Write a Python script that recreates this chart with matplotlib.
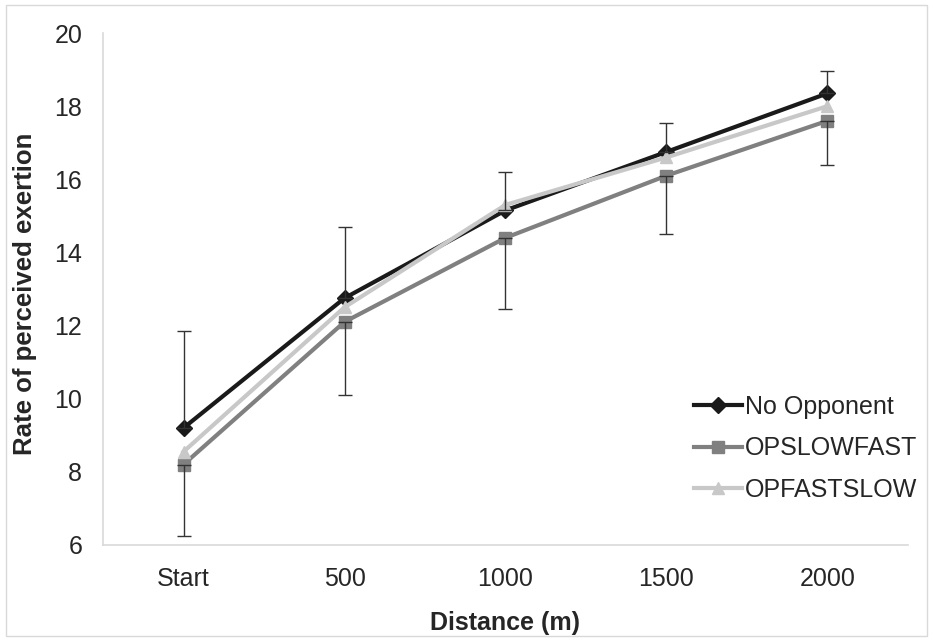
import matplotlib.pyplot as plt
from matplotlib.patches import Rectangle

plt.rcParams['font.family'] = ['Liberation Sans', 'DejaVu Sans']

# Data
distances = ['Start', '500', '1000', '1500', '2000']
no_opponent = [9.2, 12.75, 15.15, 16.75, 18.35]
op_slow_fast = [8.2, 12.1, 14.4, 16.1, 17.6]
op_fast_slow = [8.55, 12.5, 15.3, 16.6, 18.0]
# Excel-style error bars: plus on No Opponent, minus on OPSLOWFAST
no_opponent_err_up = [2.65, 1.95, 1.05, 0.8, 0.6]
op_slow_fast_err_down = [1.95, 2.0, 1.95, 1.6, 1.2]

x = list(range(len(distances)))

fig = plt.figure(figsize=(9.33, 6.41), dpi=100)
ax = fig.add_axes([0.1104, 0.1498, 0.8628, 0.7987])

# figure border
fig.patches.append(Rectangle((0.006, 0.008), 0.988, 0.984, transform=fig.transFigure,
                             fill=False, edgecolor='#d9d9d9', linewidth=1.0))

ax.plot(x, no_opponent, color='#1a1a1a', lw=3, marker='D', ms=8, label='No Opponent', zorder=3)
ax.plot(x, op_slow_fast, color='#808080', lw=3, marker='s', ms=9, label='OPSLOWFAST', zorder=3)
ax.plot(x, op_fast_slow, color='#c8c8c8', lw=3, marker='^', ms=9, label='OPFASTSLOW', zorder=4)

ax.errorbar(x, no_opponent, yerr=[[0] * 5, no_opponent_err_up], fmt='none',
            ecolor='#333333', elinewidth=1, capsize=5, capthick=1, zorder=5)
ax.errorbar(x, op_slow_fast, yerr=[op_slow_fast_err_down, [0] * 5], fmt='none',
            ecolor='#333333', elinewidth=1, capsize=5, capthick=1, zorder=5)

ax.set_xlim(-0.5, 4.5)
ax.set_ylim(6, 20)
ax.set_yticks(range(6, 21, 2))
ax.set_xticks(x)
ax.set_xticklabels(distances)
ax.tick_params(axis='both', length=0, labelsize=18, colors='#262626')
ax.tick_params(axis='y', pad=15)
ax.tick_params(axis='x', pad=16)

for side in ['top', 'right']:
    ax.spines[side].set_visible(False)
for side in ['left', 'bottom']:
    ax.spines[side].set_color('#d9d9d9')
    ax.spines[side].set_linewidth(1.2)

ax.set_xlabel('Distance (m)', fontsize=18, fontweight='bold', color='#262626', labelpad=14)
ax.set_ylabel('Rate of perceived exertion', fontsize=18.5, fontweight='bold', color='#262626')
ax.yaxis.set_label_coords(-0.082, 0.49)

ax.legend(loc='lower right', bbox_to_anchor=(1.04, 0.04), frameon=False, fontsize=18,
          handlelength=1.95, handletextpad=0.12, labelspacing=0.7, labelcolor='#262626')

fig.savefig('out.png', dpi=100)
